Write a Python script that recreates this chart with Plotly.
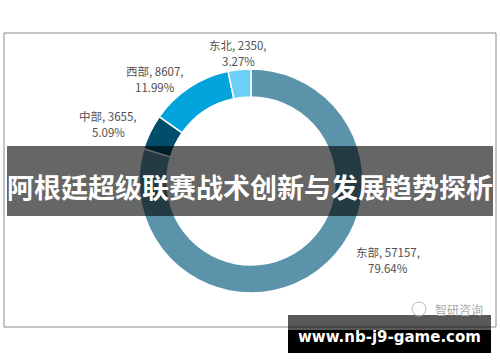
import plotly.graph_objects as go

# ---- data ----
regions = ["东部", "中部", "西部", "东北"]
values = [57157, 3655, 8607, 2350]
shares = ["79.64%", "5.09%", "11.99%", "3.27%"]
colors = ["#5B93AB", "#004E6A", "#00A3DA", "#6DCFF5"]

title_text = "阿根廷超级联赛战术创新与发展趋势探析"
site_text = "www.nb-j9-game.com"
brand_text = "智研咨询"

# ---- layout helpers (pixel -> paper) ----
W, H = 500, 362
def px(x):
    return x / W
def py(y):
    return 1 - y / H

# label centres (pixels) in data order
label_pos = [(388, 260), (108, 124), (155, 79), (238, 53)]
line_gap = 15.5

cx, cy, r = 251, 181, 112

fig = go.Figure()
fig.add_trace(go.Pie(
    labels=regions,
    values=values,
    hole=0.75,
    sort=False,
    direction="clockwise",
    rotation=0,
    marker=dict(colors=colors, line=dict(color="white", width=1.5)),
    textinfo="none",
    hoverinfo="label+value+percent",
    showlegend=False,
    domain=dict(x=[px(cx - r), px(cx + r)], y=[py(cy + r), py(cy - r)]),
))

label_font = dict(family="Noto Sans CJK SC", size=11.5, color="#505050")
annotations = []
for name, v, s, (lx, ly) in zip(regions, values, shares, label_pos):
    annotations.append(dict(
        x=px(lx), y=py(ly - line_gap / 2), xref="paper", yref="paper",
        text=f"{name}, {v},", showarrow=False, font=label_font,
        xanchor="center", yanchor="middle",
    ))
    annotations.append(dict(
        x=px(lx), y=py(ly + line_gap / 2), xref="paper", yref="paper",
        text=s, showarrow=False, font=label_font,
        xanchor="center", yanchor="middle",
    ))

shapes = [
    # chart border
    dict(type="rect", xref="paper", yref="paper",
         x0=px(4), x1=px(496), y0=py(327), y1=py(33),
         line=dict(color="#8C8C8C", width=1), fillcolor="rgba(0,0,0,0)", layer="above"),
    # title band
    dict(type="rect", xref="paper", yref="paper",
         x0=px(7), x1=px(493), y0=py(216), y1=py(146),
         line=dict(width=0), fillcolor="rgba(0,0,0,0.6)", layer="above"),
    # bottom site band (translucent part)
    dict(type="rect", xref="paper", yref="paper",
         x0=px(288), x1=px(491), y0=py(330), y1=py(315),
         line=dict(width=0), fillcolor="rgba(0,0,0,0.65)", layer="above"),
    # bottom site band (solid part)
    dict(type="rect", xref="paper", yref="paper",
         x0=px(288), x1=px(491), y0=py(353), y1=py(330),
         line=dict(width=0), fillcolor="#000000", layer="above"),
    # brand icon
    dict(type="circle", xref="paper", yref="paper",
         x0=px(412), x1=px(426), y0=py(316), y1=py(302),
         line=dict(color="#BBBBBB", width=1), fillcolor="rgba(0,0,0,0)", layer="above"),
]

annotations += [
    dict(x=px(250), y=py(186), xref="paper", yref="paper", text=f"<b>{title_text}</b>",
         showarrow=False, font=dict(family="Noto Sans CJK SC", size=27, color="white"),
         xanchor="center", yanchor="middle"),
    dict(x=px(389), y=py(337), xref="paper", yref="paper", text=f"<b>{site_text}</b>",
         showarrow=False, font=dict(family="DejaVu Sans", size=15, color="white"),
         xanchor="center", yanchor="middle"),
    dict(x=px(459), y=py(309), xref="paper", yref="paper", text=brand_text,
         showarrow=False, font=dict(family="Noto Sans CJK SC", size=12, color="#AAAAAA"),
         xanchor="center", yanchor="middle"),
]

fig.update_layout(
    width=W, height=H,
    margin=dict(l=0, r=0, t=0, b=0),
    paper_bgcolor="white", plot_bgcolor="white",
    shapes=shapes, annotations=annotations,
)

fig.write_html("out.html", config={"displayModeBar": False},
               post_script="document.body.style.margin='0';")
